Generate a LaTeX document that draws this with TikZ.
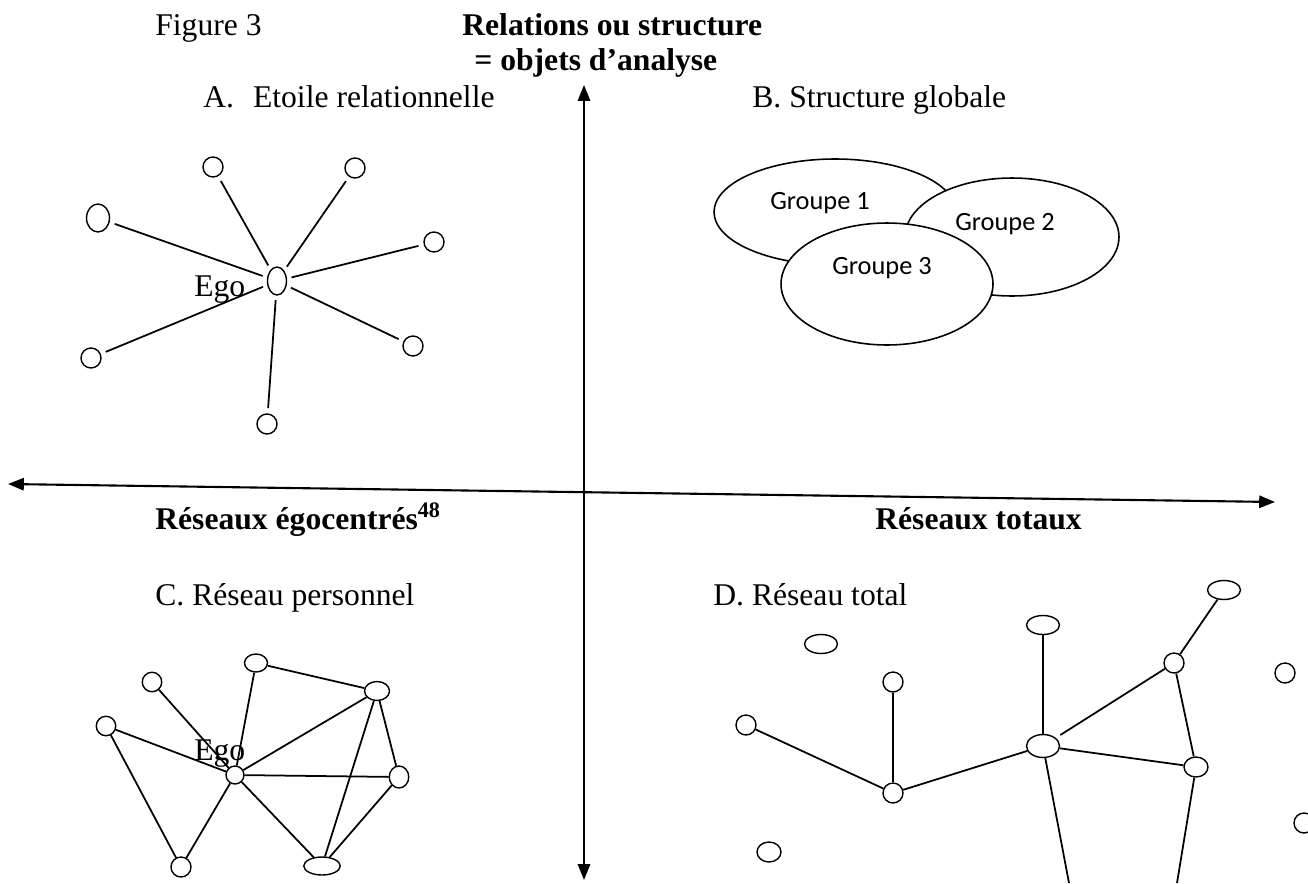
\documentclass[tikz,border=0pt]{standalone}
\usepackage{fontspec}
\setmainfont{Liberation Serif}
\newfontfamily\groupefont{Carlito}
\usetikzlibrary{arrows.meta, shapes.geometric, positioning}

\begin{document}
\begin{tikzpicture}[
    x=0.02cm, y=-0.02cm,
    every node/.style={font=\fontsize{18}{22}\selectfont},
    texte/.style={anchor=base west, inner sep=0pt},
    gras/.style={texte, font=\fontsize{18}{22}\selectfont\bfseries},
    sommet/.style={draw, ellipse, line width=0.8pt, inner sep=0pt,
      minimum width=0.4cm, minimum height=0.4cm},
    oblong/.style={minimum width=0.38cm, minimum height=0.56cm},
    plat/.style={minimum width=0.66cm, minimum height=0.38cm},
    lien/.style={line width=1pt},
    rayon/.style={lien, shorten <=3pt},
    axe/.style={
      {Triangle[length=9pt,width=7pt]}-{Triangle[length=9pt,width=7pt]},
      line width=1.2pt
    },
    groupe/.style={draw, ellipse, line width=0.9pt, fill=white, inner sep=0pt}
]
  \useasboundingbox (0,0) rectangle (1308,883);

  % Axes
  \coordinate (haut) at (584,85);
  \coordinate (bas) at (584,880);
  \coordinate (gauche) at (8,484);
  \coordinate (droite) at (1275,502);
  \draw[axe] (bas) -- (haut);
  \draw[axe] (gauche) -- (droite);

  % Titres
  \node[texte] (fig) at (155,35) {Figure 3};
  \node[gras] (rel) at (462,35) {Relations ou structure};
  \node[gras] (obj) at (474,70) {= objets d’analyse};
  \node[gras] (ego48) at (155,529) {Réseaux égocentrés\textsuperscript{48}};
  \node[gras] (tot) at (875,529) {Réseaux totaux};
  \node[texte] (tA) at (203,107) {A.\hspace{0.6em}Etoile relationnelle};
  \node[texte] (tB) at (752,107) {B. Structure globale};
  \node[texte] (tC) at (155,605) {C. Réseau personnel};
  \node[texte] (tD) at (713,605) {D. Réseau total};

  % A. Etoile
  \node[sommet, oblong, outer sep=3pt] (egoA) at (277,281) {};
  \node[sommet] (a1) at (213,167) {};
  \node[sommet] (a2) at (355,168) {};
  \node[sommet, minimum width=0.46cm, minimum height=0.56cm] (a3) at (98,218) {};
  \node[sommet] (a4) at (434,242) {};
  \node[sommet] (a5) at (91,358) {};
  \node[sommet] (a6) at (413,346) {};
  \node[sommet] (a7) at (267,424) {};
  \node[texte] (lA) at (194,296) {Ego};
  \foreach \s in {a1,a2,a3,a4,a5,a6,a7}
    \draw[rayon] (\s) -- (egoA);

  % B. Groupes
  \node[groupe, minimum width=4.84cm, minimum height=2.12cm] (g1) at (835,212) {};
  \node[font=\groupefont\fontsize{15}{18}\selectfont] (g1t) at (820,203) {Groupe 1};
  \node[groupe, minimum width=4.28cm, minimum height=2.36cm] (g2) at (1012,237) {};
  \node[font=\groupefont\fontsize{15}{18}\selectfont] (g2t) at (1005,224) {Groupe 2};
  \node[groupe, minimum width=4.24cm, minimum height=2.44cm] (g3) at (887,284) {};
  \node[font=\groupefont\fontsize{15}{18}\selectfont] (g3t) at (882,268) {Groupe 3};

  % C. Réseau personnel
  \node[sommet, minimum size=0.36cm] (egoC) at (235,775) {};
  \node[sommet, minimum width=0.46cm, minimum height=0.36cm] (c1) at (256,663) {};
  \node[sommet, minimum width=0.5cm, minimum height=0.38cm] (c2) at (377,691) {};
  \node[sommet, minimum size=0.39cm] (c3) at (152,682) {};
  \node[sommet, minimum size=0.39cm] (c4) at (106,726) {};
  \node[sommet, minimum width=0.39cm, minimum height=0.44cm] (c5) at (399,777) {};
  \node[sommet] (c6) at (181,867) {};
  \node[sommet, minimum width=0.73cm, minimum height=0.36cm] (c7) at (322,866) {};
  \node[texte] (lC) at (194,760) {Ego};
  \draw[lien] (c1) -- (c2);
  \draw[lien] (c4) -- (c6);
  \draw[lien] (c2) -- (c5);
  \draw[lien] (c2) -- (c7);
  \draw[lien] (c5) -- (c7);
  \foreach \s in {c1,c2,c3,c4,c5,c6,c7}
    \draw[lien] (\s) -- (egoC);

  % D. Réseau total
  \node[sommet, plat] (d1) at (821,644) {};
  \node[sommet] (d2) at (893,682) {};
  \node[sommet] (d3) at (746,725) {};
  \node[sommet] (d4) at (893,793) {};
  \node[sommet, plat] (d5) at (1043,625) {};
  \node[sommet, minimum width=0.66cm, minimum height=0.46cm] (d6) at (1043,746) {};
  \node[sommet, plat] (d7) at (1224,590) {};
  \node[sommet] (d8) at (1174,663) {};
  \node[sommet, minimum width=0.48cm] (d9) at (1196,767) {};
  \node[sommet] (d10) at (1285,673) {};
  \node[sommet] (d11) at (1304,823) {};
  \node[sommet, minimum width=0.48cm] (d12) at (769,852) {};
  \coordinate (sortie1) at (1069,883);
  \coordinate (sortie2) at (1177,883);
  \draw[lien] (d3) -- (d4);
  \draw[lien] (d2) -- (d4);
  \draw[lien] (d4) -- (d6);
  \draw[lien] (d5) -- (d6);
  \draw[lien, shorten >=3pt] (d8) -- (d6);
  \draw[lien] (d7) -- (d8);
  \draw[lien] (d8) -- (d9);
  \draw[lien] (d6) -- (d9);
  \draw[lien] (d6) -- (sortie1);
  \draw[lien] (d9) -- (sortie2);
\end{tikzpicture}
\end{document}
